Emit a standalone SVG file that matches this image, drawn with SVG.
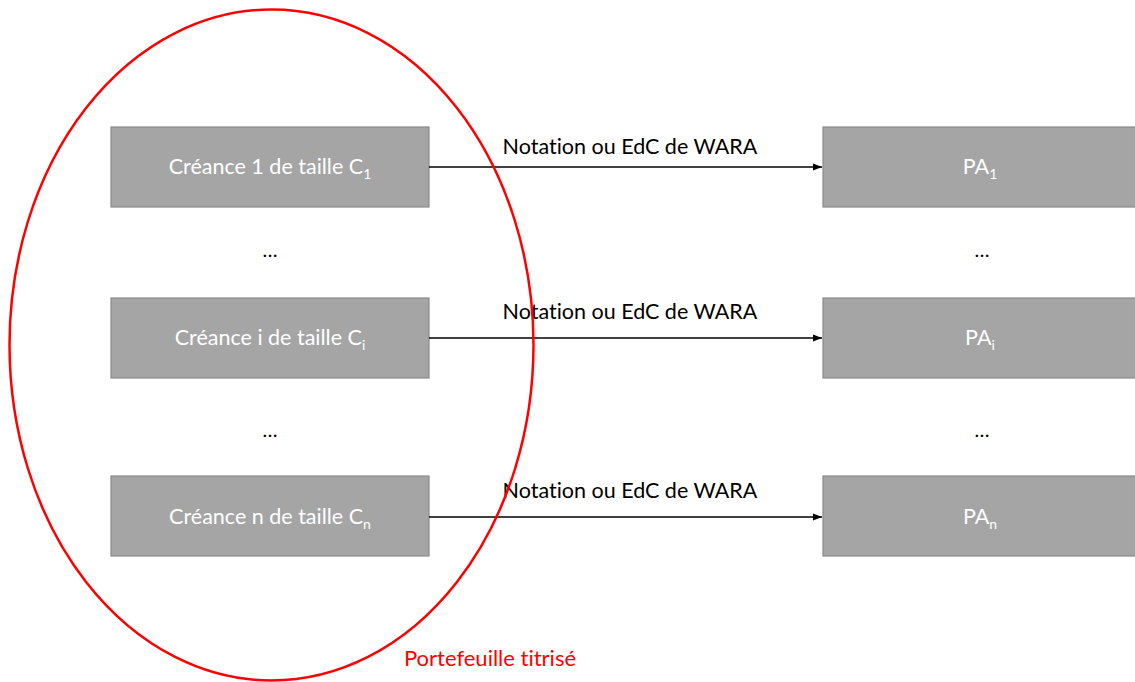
<svg xmlns="http://www.w3.org/2000/svg" width="1135" height="682" viewBox="0 0 1135 682">
<defs>
<style>
text{font-variant-ligatures:none;font-feature-settings:"liga" 0}
.box{fill:#a5a5a5;stroke:#8a8a8a;stroke-width:1.2}
.bt{font-family:Lato,"Open Sans","Liberation Sans",sans-serif;font-size:21.5px;fill:#ffffff;text-anchor:middle}
.lbl{font-family:Lato,"Open Sans","Liberation Sans",sans-serif;font-size:21.5px;fill:#000000;text-anchor:middle}
.dots{font-family:Lato,"Open Sans","Liberation Sans",sans-serif;font-size:20px;fill:#000000;text-anchor:middle}
.sub{font-size:14px}
.conn{stroke:#000000;stroke-width:1.5;fill:none;marker-end:url(#ah)}
</style>
<marker id="ah" viewBox="0 0 10 10" refX="10" refY="5" markerWidth="6" markerHeight="6" markerUnits="strokeWidth" orient="auto">
<path d="M0,1 L10,5 L0,9 z" fill="#000000"/>
</marker>
</defs>
<rect width="1135" height="682" fill="#ffffff"/>
<g id="node-c1"><rect class="box" x="111" y="127" width="318" height="80"/><text class="bt" x="270" y="174">Créance 1 de taille C<tspan class="sub" dy="5">1</tspan></text></g>
<g id="node-ci"><rect class="box" x="111" y="298" width="318" height="80"/><text class="bt" x="270" y="345">Créance i de taille C<tspan class="sub" dy="5">i</tspan></text></g>
<g id="node-cn"><rect class="box" x="111" y="476" width="318" height="80"/><text class="bt" x="270" y="524">Créance n de taille C<tspan class="sub" dy="5">n</tspan></text></g>
<g id="node-pa1"><rect class="box" x="823" y="127" width="315" height="80"/><text class="bt" x="980" y="174">PA<tspan class="sub" dy="5">1</tspan></text></g>
<g id="node-pai"><rect class="box" x="823" y="298" width="315" height="80"/><text class="bt" x="980" y="345">PA<tspan class="sub" dy="5">i</tspan></text></g>
<g id="node-pan"><rect class="box" x="823" y="476" width="315" height="80"/><text class="bt" x="980" y="524">PA<tspan class="sub" dy="5">n</tspan></text></g>
<g id="dots">
<text class="dots" x="270" y="257">…</text>
<text class="dots" x="270" y="437">…</text>
<text class="dots" x="982" y="257">…</text>
<text class="dots" x="982" y="437">…</text>
</g>
<g id="connectors">
<line class="conn" x1="429" y1="167" x2="822" y2="167"/>
<line class="conn" x1="429" y1="338" x2="822" y2="338"/>
<line class="conn" x1="429" y1="517" x2="822" y2="517"/>
<text class="lbl" x="630" y="154">Notation ou EdC de WARA</text>
<text class="lbl" x="630" y="319">Notation ou EdC de WARA</text>
<text class="lbl" x="630" y="498">Notation ou EdC de WARA</text>
</g>
<g id="portfolio">
<ellipse cx="271.5" cy="345" rx="262" ry="335.5" fill="none" stroke="#ff0000" stroke-width="2.5"/>
<text x="490" y="666" font-family="Lato,'Open Sans','Liberation Sans',sans-serif" font-size="22px" fill="#ff0000" text-anchor="middle">Portefeuille titrisé</text>
</g>
</svg>
